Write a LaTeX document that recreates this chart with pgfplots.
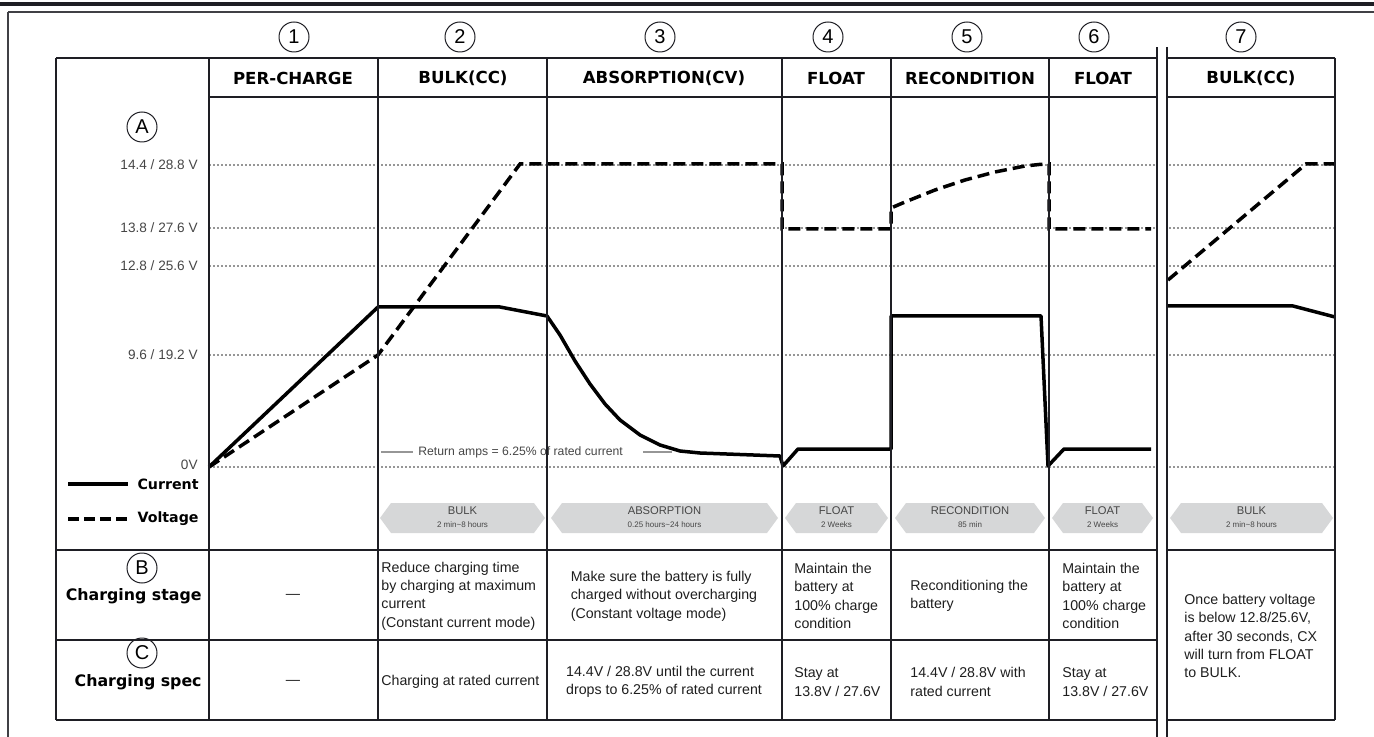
\documentclass[border=0pt]{standalone}
\usepackage{pgfplots}
\pgfplotsset{compat=1.18}
\usepackage{fontspec}
\setmainfont{Liberation Sans}
\newfontfamily\hvy{DejaVu Sans Bold}
\definecolor{rule}{RGB}{30,30,36}
\definecolor{gridc}{RGB}{150,150,150}
\definecolor{chev}{RGB}{214,215,216}
\definecolor{txt}{RGB}{30,30,30}
\definecolor{soft}{RGB}{70,70,70}

\tikzset{
  tbl/.style={draw=rule, line width=1.1pt},
  gridl/.style={draw=gridc, line width=0.7pt, dash pattern=on 1.2pt off 0.8pt},
  cell/.style={inner sep=0pt, align=left, text=txt, font=\fontsize{7.1}{9.2}\selectfont},
  lab/.style={inner sep=0pt, anchor=east, text=soft, font=\fontsize{6.8}{7}\selectfont},
  hdr/.style={inner sep=0pt, font=\hvy\fontsize{8.3}{9}\selectfont},
  circ/.style={draw=rule, circle, line width=0.5pt, minimum size=15pt, inner sep=0pt, font=\fontsize{10}{10}\selectfont},
  cur/.style={black, line width=1.75pt, line join=round},
  volt/.style={black, line width=1.75pt, dash pattern=on 6pt off 3pt},
}

% chevron: left x, right x, title, subtitle
\newcommand\chev[4]{%
  \fill[chev] (#1,518) -- ({#1+11},503) -- ({#2-11},503) -- (#2,518) -- ({#2-11},533) -- ({#1+11},533) -- cycle;
  \node[inner sep=0pt, text=soft, font=\fontsize{5.6}{6}\selectfont] at ({(#1+#2)/2},511) {#3};
  \node[inner sep=0pt, text=soft, font=\fontsize{4}{4.5}\selectfont] at ({(#1+#2)/2},525) {#4};}

\begin{document}
\begin{tikzpicture}
\begin{axis}[
  scale only axis, width=687pt, height=368.5pt,
  xmin=0, xmax=1374, ymin=0, ymax=737, y dir=reverse,
  hide axis, clip=false,
]

% outer frame
\draw[rule, line width=1.6pt] (0,4) -- (1374,4);
\draw[rule!85, line width=0.7pt] (8,12) -- (1374,12);
\draw[rule!85, line width=0.7pt] (8,12) -- (8,737);

% grid levels
\draw[gridl] (209,165) -- (1335,165);
\draw[gridl] (209,228) -- (1335,228);
\draw[gridl] (209,266) -- (1335,266);
\draw[gridl] (209,355) -- (1335,355);
\draw[gridl] (209,467) -- (1335,467);

% level labels
\node[lab] at (198,165) {14.4 / 28.8 V};
\node[lab] at (198,228) {13.8 / 27.6 V};
\node[lab] at (198,266) {12.8 / 25.6 V};
\node[lab] at (198,355) {9.6 / 19.2 V};
\node[lab] at (198,465) {0V};

% return amps marker
\draw[gridc, line width=1pt] (381,452) -- (413,452);
\draw[gridc, line width=1pt] (643,452) -- (672,452);
\node[inner sep=0pt, anchor=west, text=soft, font=\fontsize{6.1}{7}\selectfont] at (418,452) {Return amps = 6.25\% of rated current};

% current
\addplot[cur] coordinates {
  (209,467) (378,307) (500,307) (547,316) (560,335) (575,361) (590,384)
  (605,404) (620,420) (640,435) (660,445) (680,451) (700,453) (780,456)
  (783,466) (798,449) (891,449) (891,316) (1041,316) (1048,466)
  (1064,449) (1151,449)
};
\addplot[cur] coordinates {(1168,306) (1293,306) (1335,317)};

% voltage
\addplot[volt] coordinates {
  (209,467) (378,355) (520,164) (782,164) (782,229) (891,229) (891,208)
  (905,202) (920,196) (935,190) (950,185) (965,180) (980,176) (995,172)
  (1010,169) (1025,166) (1040,164.4) (1049,164) (1049,229) (1151,229)
};
\addplot[volt] coordinates {(1168,280) (1306,164) (1335,164)};

% chevrons
\chev{380}{545}{BULK}{2 min\textasciitilde 8 hours}
\chev{551}{778}{ABSORPTION}{0.25 hours\textasciitilde 24 hours}
\chev{785}{888}{FLOAT}{2 Weeks}
\chev{895}{1045}{RECONDITION}{85 min}
\chev{1052}{1153}{FLOAT}{2 Weeks}
\chev{1170}{1333}{BULK}{2 min\textasciitilde 8 hours}

% table rules
\draw[tbl] (56,58) -- (1157,58);
\draw[tbl] (1167,58) -- (1335,58);
\draw[tbl] (209,97) -- (1157,97);
\draw[tbl] (1167,97) -- (1335,97);
\draw[tbl] (56,550) -- (1157,550);
\draw[tbl] (1167,550) -- (1335,550);
\draw[tbl] (56,640) -- (1157,640);
\draw[tbl] (56,720) -- (1157,720);
\draw[tbl] (1167,720) -- (1335,720);
\draw[tbl] (56,58) -- (56,720);
\draw[tbl] (209,58) -- (209,720);
\draw[tbl] (378,58) -- (378,720);
\draw[tbl] (547,58) -- (547,720);
\draw[tbl] (782,58) -- (782,720);
\draw[tbl] (891,58) -- (891,720);
\draw[tbl] (1049,58) -- (1049,720);
\draw[tbl] (1335,58) -- (1335,720);

% break: two rules with a white band between them
\draw[rule, line width=6pt] (1162,47) -- (1162,737);
\draw[white, line width=3.6pt] (1162,46) -- (1162,738);

% stage numbers
\node[circ] at (294,37) {1};
\node[circ] at (460,37) {2};
\node[circ] at (660,37) {3};
\node[circ] at (828,37) {4};
\node[circ] at (967,37) {5};
\node[circ] at (1094,37) {6};
\node[circ] at (1241,37) {7};

% header
\node[hdr] at (293,78) {PER-CHARGE};
\node[hdr] at (463,78) {BULK(CC)};
\node[hdr] at (664,78) {ABSORPTION(CV)};
\node[hdr] at (836,78) {FLOAT};
\node[hdr] at (970,78) {RECONDITION};
\node[hdr] at (1103,78) {FLOAT};
\node[hdr] at (1251,78) {BULK(CC)};

% row labels
\node[circ] at (142,127) {A};
\node[circ] at (142,568) {B};
\node[circ] at (142,653) {C};
\draw[black, line width=1.75pt] (68,484) -- (128,484);
\draw[black, line width=1.75pt, dash pattern=on 5.5pt off 2.5pt] (68,519) -- (128,519);
\node[inner sep=0pt, anchor=east, font=\hvy\fontsize{7.1}{8}\selectfont] at (199,484) {Current};
\node[inner sep=0pt, anchor=east, font=\hvy\fontsize{7.1}{8}\selectfont] at (199,519) {Voltage};
\node[inner sep=0pt, anchor=east, font=\hvy\fontsize{7.9}{9}\selectfont] at (202,596) {Charging stage};
\node[inner sep=0pt, anchor=east, font=\hvy\fontsize{7.9}{9}\selectfont] at (202,682) {Charging spec};

% row B: charging stage
\node[cell] at (293,596) {---};
\node[cell, anchor=west] at (381,596) {Reduce charging time\\by charging at maximum\\current\\(Constant current mode)};
\node[cell] at (664,596) {Make sure the battery is fully\\charged without overcharging\\(Constant voltage mode)};
\node[cell, anchor=west] at (794,596) {Maintain the\\battery at\\100\% charge\\condition};
\node[cell, anchor=west] at (910,596) {Reconditioning the\\battery};
\node[cell, anchor=west] at (1062,596) {Maintain the\\battery at\\100\% charge\\condition};
\node[cell, anchor=west] at (1184,636) {Once battery voltage\\is below 12.8/25.6V,\\after 30 seconds, CX\\will turn from FLOAT\\to BULK.};

% row C: charging spec
\node[cell] at (293,682) {---};
\node[cell, anchor=west] at (381,682) {Charging at rated current};
\node[cell] at (664,682) {14.4V / 28.8V until the current\\drops to 6.25\% of rated current};
\node[cell, anchor=west] at (794,682) {Stay at\\13.8V / 27.6V};
\node[cell, anchor=west] at (910,682) {14.4V / 28.8V with\\rated current};
\node[cell, anchor=west] at (1062,682) {Stay at\\13.8V / 27.6V};

\end{axis}
\pgfresetboundingbox
\path (current axis.south west) rectangle (current axis.north east);
\end{tikzpicture}
\end{document}
